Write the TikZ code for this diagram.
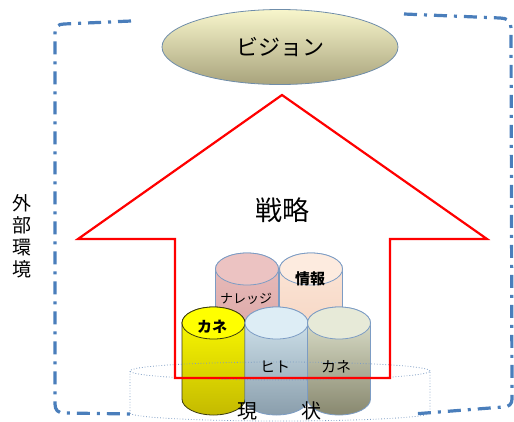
\documentclass[tikz,border=0pt]{standalone}
\usepackage{fontspec}
\setmainfont{Noto Sans CJK JP}
\usetikzlibrary{shapes.geometric}

\definecolor{framecol}{HTML}{4A7EBB}
\definecolor{edgecol}{HTML}{7C9CC4}
\definecolor{ovaltop}{HTML}{F8F6CC}
\definecolor{ovalbot}{HTML}{A8A37C}
\definecolor{ovaledge}{HTML}{6F8DAA}
\definecolor{pinktop}{HTML}{E9BDBC}
\definecolor{pinkbot}{HTML}{D9A3A2}
\definecolor{pinklid}{HTML}{ECC3C2}
\definecolor{peachtop}{HTML}{FCE6D8}
\definecolor{peachbot}{HTML}{F4D2BE}
\definecolor{peachlid}{HTML}{FDEBDF}
\definecolor{yeltop}{HTML}{FFFF00}
\definecolor{yelbot}{HTML}{C4BA00}
\definecolor{yellid}{HTML}{FFFF00}
\definecolor{yeledge}{HTML}{3A3A10}
\definecolor{bluetop}{HTML}{D6E9F2}
\definecolor{bluebot}{HTML}{8A9EAC}
\definecolor{bluelid}{HTML}{DDEDF5}
\definecolor{olivetop}{HTML}{E3E7D2}
\definecolor{olivebot}{HTML}{88886F}
\definecolor{olivelid}{HTML}{E7EAD8}

% cylinder: #1 centre x, #2 lid centre y, #3 base centre y,
% #4 body top colour, #5 body bottom colour, #6 lid colour, #7 outline
\newcommand\drum[7]{%
  \shadedraw[top color=#4,bottom color=#5,draw=#7,line width=0.8pt]
    (#1-31.5,-#2) -- (#1-31.5,-#3)
    arc[start angle=180,end angle=360,x radius=31.5,y radius=16]
    -- (#1+31.5,-#2)
    arc[start angle=0,end angle=180,x radius=31.5,y radius=16] -- cycle;
  \filldraw[fill=#6,draw=#7,line width=0.8pt]
    (#1,-#2) ellipse[x radius=31.5,y radius=16];
}

\tikzset{
  frameline/.style={draw=framecol,line width=3.2pt,
    dash pattern=on 13pt off 7pt on 3pt off 7pt},
  arrowline/.style={draw=red,line width=2.2pt,line join=miter},
  platline/.style={draw=edgecol,line width=0.8pt,dotted},
  lbl/.style={inner sep=0pt,text=black},
}

\begin{document}
\begin{tikzpicture}[x=1pt,y=1pt]
\useasboundingbox (0,0) rectangle (514,-421);

% outer environment frame (two brackets)
\draw[frameline] (131,-21) -- (64,-24) .. controls (58,-24) and (55,-27) .. (55,-33)
  -- (55,-404) .. controls (55,-410) and (58,-413) .. (64,-413) -- (133,-414);
\draw[frameline] (404,-14) -- (500,-18) .. controls (507,-18) and (511,-21) .. (511,-28)
  -- (512,-399) .. controls (512,-404) and (509,-407) .. (503,-407) -- (413,-414);

% vision oval
\node[ellipse,minimum width=236pt,minimum height=75pt,inner sep=0pt,
      shade,top color=ovaltop,bottom color=ovalbot,draw=ovaledge,line width=0.8pt,
      font=\fontsize{22}{24}\selectfont] (vision) at (280,-47) {ビジョン};

% resource cylinders, back row
\drum{247}{269}{340}{pinktop}{pinkbot}{pinklid}{edgecol}
\drum{311}{269}{340}{peachtop}{peachbot}{peachlid}{edgecol}
% front row
\drum{213.5}{323}{399}{yeltop}{yelbot}{yellid}{yeledge}
\drum{276.5}{323}{399}{bluetop}{bluebot}{bluelid}{edgecol}
\drum{339}{323}{399}{olivetop}{olivebot}{olivelid}{edgecol}

% base platform (current state)
\draw[platline] (280,-371) ellipse[x radius=150,y radius=9];
\draw[platline] (130,-371) -- (130,-413)
  arc[start angle=180,end angle=360,x radius=150,y radius=8] -- (430,-371);

% strategy arrow
\draw[arrowline] (282,-95) -- (487,-239) -- (390,-239) -- (390,-378)
  -- (175,-378) -- (175,-239) -- (78,-239) -- cycle;

% labels
\node[lbl,font=\fontsize{27}{29}\selectfont] (strategy) at (282,-210) {戦略};
\node[lbl,font=\fontsize{13}{15}\selectfont] (knowledge) at (246,-299) {ナレッジ};
\node[lbl,font=\bfseries\fontsize{15}{17}\selectfont] (info) at (310,-279) {情報};
\node[lbl,font=\bfseries\fontsize{15}{17}\selectfont] (money1) at (212,-327) {カネ};
\node[lbl,font=\fontsize{15}{17}\selectfont] (people) at (275,-367) {ヒト};
\node[lbl,font=\fontsize{15}{17}\selectfont] (money2) at (336,-367) {カネ};
\node[lbl,font=\fontsize{20}{22}\selectfont] (now1) at (247,-411) {現};
\node[lbl,font=\fontsize{20}{22}\selectfont] (now2) at (311,-411) {状};
\node[lbl,align=center,font=\fontsize{19}{22}\selectfont] (env) at (22,-236)
  {外\\部\\環\\境};
\end{tikzpicture}
\end{document}
